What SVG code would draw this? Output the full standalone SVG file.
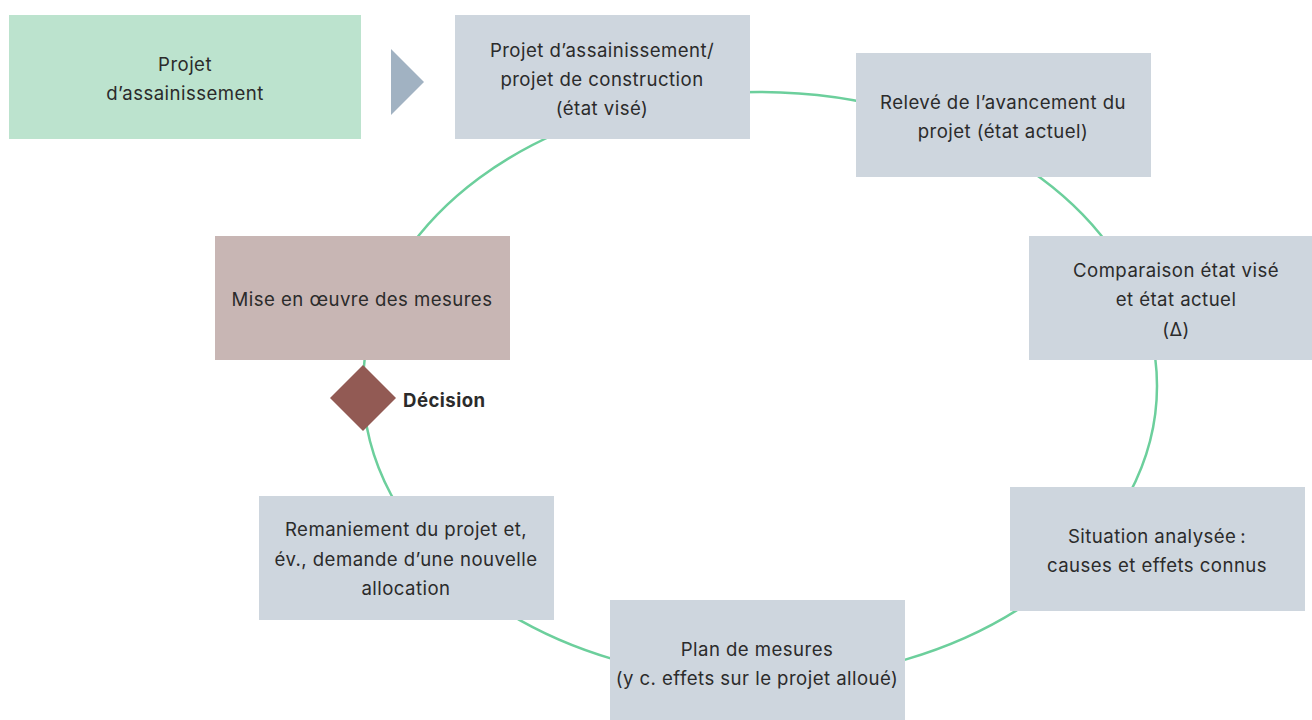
<svg xmlns="http://www.w3.org/2000/svg" width="1312" height="720" viewBox="0 0 1312 720">
<style>
text{font-family:Inter,"Liberation Sans",sans-serif;font-size:18.6px;letter-spacing:0.45px;fill:#2b2b2b;text-anchor:middle}
.box{fill:#ced6de}
.b{font-weight:bold;text-anchor:start}
</style>
<rect width="1312" height="720" fill="#fff"/>
<g id="connectors">
<ellipse cx="760" cy="386" rx="397" ry="294" fill="none" stroke="#6ccf9c" stroke-width="2.5"/>
<polygon points="391,49 424,82 391,115" fill="#a1b2c2"/>
</g>
<g id="n0"><rect x="9" y="15" width="352" height="124" fill="#bce3ce"/>
<text x="185" y="71">Projet</text><text x="185" y="100">d’assainissement</text></g>
<g id="n1"><rect class="box" x="455" y="15" width="295" height="124"/>
<text x="602" y="57">Projet d’assainissement/</text><text x="602" y="86">projet de construction</text><text x="602" y="115">(état visé)</text></g>
<g id="n2"><rect class="box" x="856" y="53" width="295" height="124"/>
<text x="1003" y="109">Relevé de l’avancement du</text><text x="1003" y="138">projet (état actuel)</text></g>
<g id="n3"><rect class="box" x="1029" y="236" width="283" height="124"/>
<text x="1176" y="277">Comparaison état visé</text><text x="1176" y="306">et état actuel</text><text x="1176" y="336">(Δ)</text></g>
<g id="n4"><rect class="box" x="1010" y="487" width="295" height="124"/>
<text x="1157" y="543">Situation analysée&#8239;:</text><text x="1157" y="572">causes et effets connus</text></g>
<g id="n5"><rect class="box" x="610" y="600" width="295" height="120"/>
<text x="757" y="656">Plan de mesures</text><text x="757" y="685">(y c. effets sur le projet alloué)</text></g>
<g id="n6"><rect class="box" x="259" y="496" width="295" height="124"/>
<text x="406" y="536">Remaniement du projet et,</text><text x="406" y="566">év., demande d’une nouvelle</text><text x="406" y="595">allocation</text></g>
<g id="n7"><rect x="215" y="236" width="295" height="124" fill="#c8b6b4"/>
<text x="362" y="306">Mise en œuvre des mesures</text></g>
<g id="n8"><polygon points="363,365 396,398 363,431 330,398" fill="#925a54"/>
<text class="b" x="403" y="407">Décision</text></g>
</svg>
